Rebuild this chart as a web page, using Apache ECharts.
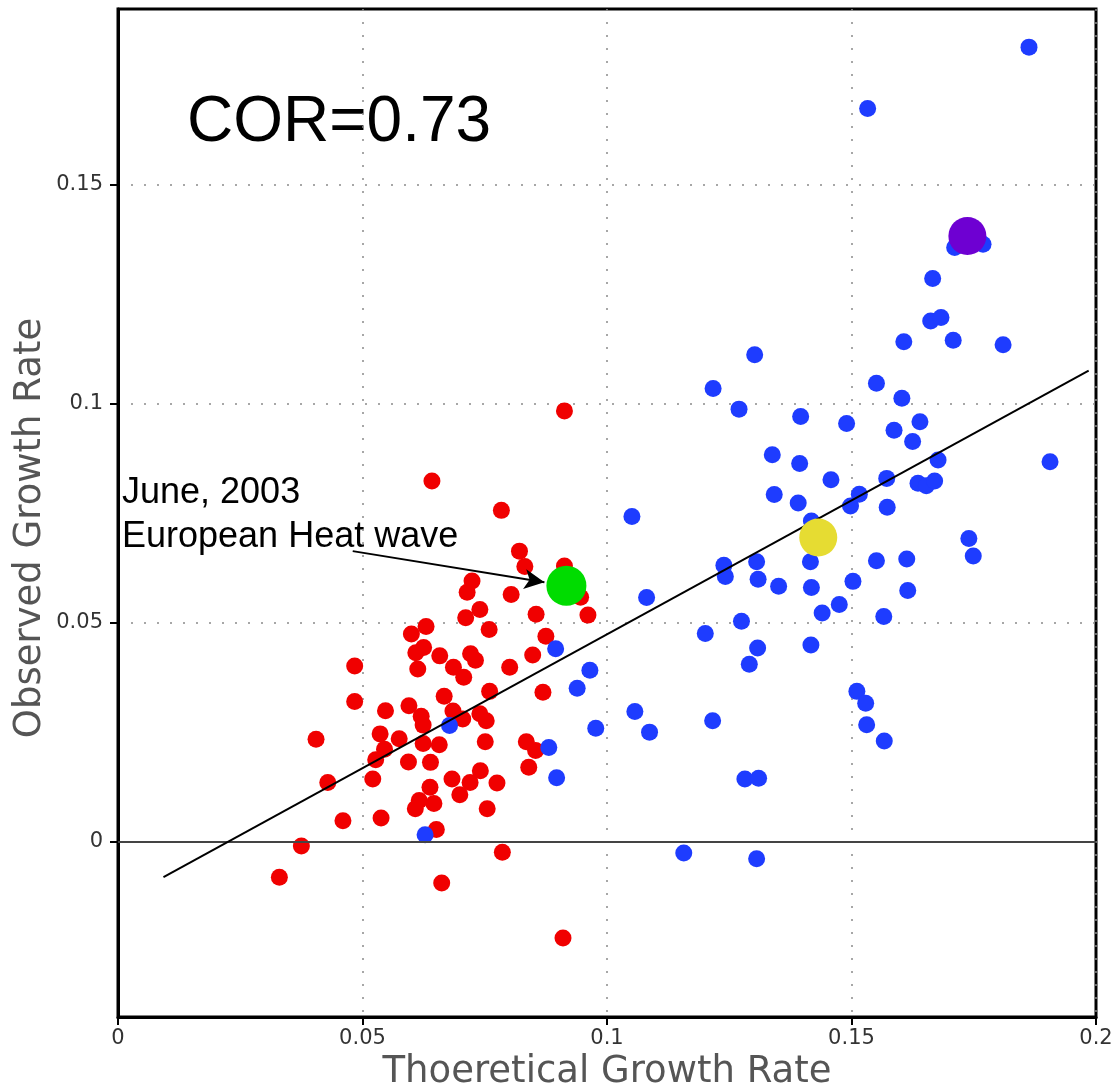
<!DOCTYPE html>
<html>
<head>
<meta charset="utf-8">
<script src="https://cdn.jsdelivr.net/npm/echarts@6/dist/echarts.min.js"></script>
<style>
  html, body { margin: 0; padding: 0; background: #fff; }
  #chart { width: 1117px; height: 1089px; }
</style>
</head>
<body>
<div id="chart"></div>
<script>
// red: cooler months, blue: warmer months
const redX = [0.0913,0.0642,0.0784,0.0821,0.0832,0.0913,0.0946,0.0724,0.0714,0.0804,
  0.0740,0.0711,0.0855,0.0961,0.0630,0.0600,0.0759,0.0875,0.0625,0.0609,
  0.0721,0.0731,0.0658,0.0848,0.0484,0.0613,0.0686,0.0707,0.0801,0.0484,
  0.0667,0.0760,0.0869,0.0595,0.0547,0.0620,0.0624,0.0685,0.0740,0.0753,
  0.0705,0.0405,0.0536,0.0575,0.0624,0.0657,0.0751,0.0835,0.0854,0.0545,
  0.0527,0.0594,0.0639,0.0840,0.0521,0.0429,0.0683,0.0741,0.0720,0.0775,
  0.0638,0.0699,0.0616,0.0646,0.0608,0.0755,0.0460,0.0538,0.0651,0.0375,
  0.0786,0.0330,0.0662,0.0910]
const redY = [0.0983,0.0823,0.0756,0.0663,0.0628,0.0629,0.0558,0.0595,0.0569,0.0564,
  0.0530,0.0511,0.0519,0.0517,0.0491,0.0474,0.0484,0.0469,0.0443,0.0431,
  0.0429,0.0414,0.0424,0.0426,0.0401,0.0394,0.0398,0.0375,0.0398,0.0320,
  0.0332,0.0343,0.0341,0.0310,0.0299,0.0286,0.0266,0.0298,0.0292,0.0276,
  0.0280,0.0234,0.0246,0.0235,0.0224,0.0221,0.0228,0.0228,0.0208,0.0211,
  0.0187,0.0182,0.0181,0.0170,0.0143,0.0135,0.0143,0.0162,0.0135,0.0134,
  0.0124,0.0107,0.0094,0.0087,0.0075,0.0075,0.0048,0.0054,0.0028,-0.0010,
  -0.0024,-0.0081,-0.0094,-0.0220]

const blueX = [0.1863,0.1533,0.1711,0.1769,0.1666,0.1662,0.1683,0.1607,0.1708,0.1810,
  0.1302,0.1217,0.1551,0.1270,0.1603,0.1396,0.1490,0.1640,0.1587,0.1625,
  0.1338,0.1394,0.1677,0.1906,0.1458,0.1572,0.1636,0.1653,0.1670,0.1342,
  0.1391,0.1516,0.1498,0.1573,0.1051,0.1418,0.1740,0.1749,0.1551,0.1613,
  0.1239,0.1306,0.1416,0.1242,0.1309,0.1351,0.1418,0.1503,0.1615,0.1081,
  0.1475,0.1440,0.1566,0.1275,0.1201,0.1308,0.1291,0.1417,0.1511,0.1529,
  0.1531,0.1567,0.1057,0.1087,0.1216,0.1282,0.1310,0.1157,0.1306,0.0895,
  0.0965,0.0939,0.0977,0.0881,0.0897,0.0678,0.0628]
const blueY = [0.1813,0.1673,0.1356,0.1363,0.1285,0.1188,0.1196,0.1141,0.1144,0.1134,
  0.1111,0.1034,0.1046,0.0987,0.1012,0.0970,0.0954,0.0958,0.0939,0.0913,
  0.0883,0.0863,0.0871,0.0867,0.0826,0.0829,0.0818,0.0812,0.0823,0.0792,
  0.0773,0.0793,0.0766,0.0763,0.0742,0.0732,0.0692,0.0652,0.0641,0.0645,
  0.0631,0.0639,0.0639,0.0605,0.0599,0.0583,0.0580,0.0594,0.0573,0.0557,
  0.0541,0.0522,0.0514,0.0503,0.0475,0.0442,0.0405,0.0449,0.0343,0.0316,
  0.0267,0.0230,0.0297,0.0250,0.0276,0.0143,0.0145,-0.0026,-0.0039,0.0440,
  0.0391,0.0350,0.0259,0.0215,0.0146,0.0265,0.0016]

// highlighted months
const heatWave = [0.0917, 0.0584]   // June 2003
const yellowPt = [0.1432, 0.0694]
const purplePt = [0.1737, 0.1382]

// regression line end points
const fitX = [0.0093, 0.1985]
const fitY = [-0.0081, 0.1075]

// annotation arrow
const arrowFrom = [0.0480, 0.0663]
const arrowTo = [0.0872, 0.0592]

const ticks = [0, 0.05, 0.1, 0.15]

const toPairs = (xs, ys) => xs.map((x, i) => [x, ys[i]])

const chart = echarts.init(document.getElementById('chart'))

const axisFont = {
  fontFamily: 'DejaVu Sans',
  fontSize: 21,
  color: '#333'
}

chart.setOption({
  animation: false,
  backgroundColor: '#fff',
  grid: {
    left: 118,
    top: 9,
    right: 21,
    bottom: 72,
    show: true,
    borderColor: '#000',
    borderWidth: 3,
    containLabel: false,
    outerBoundsMode: 'none'
  },
  xAxis: {
    type: 'value',
    min: 0,
    max: 0.2,
    interval: 0.05,
    name: 'Thoeretical Growth Rate',
    nameLocation: 'middle',
    nameGap: 35,
    nameTextStyle: {
      fontFamily: 'DejaVu Sans',
      fontSize: 37,
      color: '#555'
    },
    axisLine: { show: true, onZero: false, lineStyle: { color: '#000', width: 3 } },
    axisTick: { show: true, length: 8, lineStyle: { color: '#000', width: 2 } },
    axisLabel: Object.assign({ margin: 11 }, axisFont),
    splitLine: {
      show: true,
      lineStyle: { color: '#8a8a8a', width: 1.5, type: [2, 11] }
    }
  },
  yAxis: {
    type: 'value',
    min: -0.04,
    max: 0.19,
    axisLine: { show: true, onZero: false, lineStyle: { color: '#000', width: 3 } },
    axisTick: { show: true, length: 8, customValues: ticks, lineStyle: { color: '#000', width: 2 } },
    axisLabel: Object.assign({ margin: 15, customValues: ticks }, axisFont),
    splitLine: {
      show: true,
      lineStyle: { color: '#8a8a8a', width: 1.5, type: [2, 11] }
    }
  },
  graphic: [
    {
      type: 'text',
      left: 187,
      top: 91,
      style: {
        text: 'COR=0.73',
        fontFamily: 'Liberation Sans, Arial',
        fontSize: 64,
        fill: '#000'
      }
    },
    {
      type: 'text',
      left: 122,
      top: 471,
      style: {
        text: 'June, 2003\nEuropean Heat wave',
        fontFamily: 'Liberation Sans, Arial',
        fontSize: 36,
        lineHeight: 44,
        fill: '#000'
      }
    },
    {
      type: 'text',
      x: 30,
      y: 528,
      rotation: Math.PI / 2,
      style: {
        text: 'Observed Growth Rate',
        fontFamily: 'DejaVu Sans',
        fontSize: 37,
        fill: '#555',
        align: 'center',
        verticalAlign: 'middle'
      }
    }
  ],
  series: [
    {
      name: 'cold',
      type: 'scatter',
      symbol: 'circle',
      symbolSize: 17,
      itemStyle: { color: '#f00000', opacity: 1 },
      data: toPairs(redX, redY),
      z: 3
    },
    {
      name: 'warm',
      type: 'scatter',
      symbol: 'circle',
      symbolSize: 17,
      itemStyle: { color: '#1e3cff', opacity: 1 },
      data: toPairs(blueX, blueY),
      z: 4
    },
    {
      name: 'fit',
      type: 'line',
      data: toPairs(fitX, fitY),
      showSymbol: false,
      symbol: 'none',
      lineStyle: { color: '#000', width: 2 },
      z: 5,
      markLine: {
        silent: true,
        symbol: ['none', 'none'],
        label: { show: false },
        data: [
          { yAxis: 0, lineStyle: { color: '#444', width: 2, type: 'solid' } },
          [
            { coord: arrowFrom, symbol: 'none' },
            { coord: arrowTo, symbol: 'arrow', symbolSize: [15, 20] }
          ]
        ],
        lineStyle: { color: '#000', width: 2, type: 'solid' }
      }
    },
    {
      name: 'heat wave',
      type: 'scatter',
      symbolSize: 40,
      itemStyle: { color: '#00dc00', opacity: 1 },
      data: [heatWave],
      z: 6
    },
    {
      name: 'yellow',
      type: 'scatter',
      symbolSize: 38,
      itemStyle: { color: '#e6dc32', opacity: 1 },
      data: [yellowPt],
      z: 6
    },
    {
      name: 'purple',
      type: 'scatter',
      symbolSize: 38,
      itemStyle: { color: '#6e00d2', opacity: 1 },
      data: [purplePt],
      z: 6
    }
  ]
})
</script>
</body>
</html>
